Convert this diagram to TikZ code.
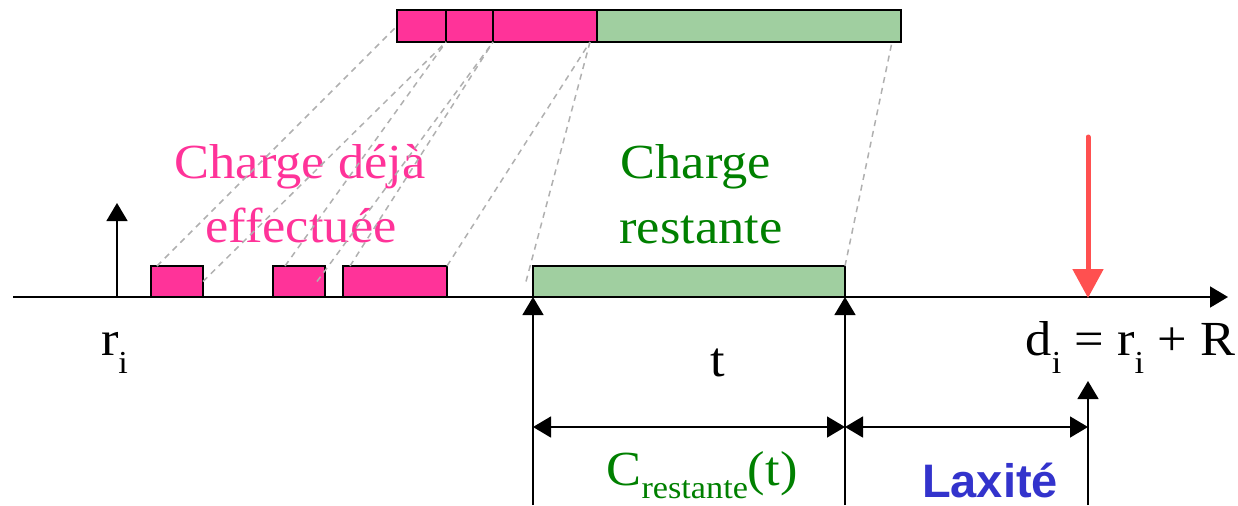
\documentclass[tikz,border=0pt]{standalone}
\usepackage{fontspec}
\setmainfont{Liberation Serif}[FakeStretch=1.07]
\newfontfamily\sansfam{Liberation Sans}
\usetikzlibrary{arrows.meta,calc}
\definecolor{pinkc}{HTML}{FF3399}
\definecolor{greenfill}{HTML}{A0CFA0}
\definecolor{greentext}{HTML}{008000}
\definecolor{bluetext}{HTML}{3333CC}
\definecolor{redarrow}{HTML}{FF5050}
\definecolor{dashgray}{HTML}{B0B0B0}
\newcommand\mysub[2][9pt]{\raisebox{-#1}{\fontsize{16}{16}\selectfont #2}}
\begin{document}
\begin{tikzpicture}[x=0.5pt,y=-0.5pt,
  seg/.style={draw=black, line width=1pt, inner sep=0pt, outer sep=0pt, anchor=north west},
  pinkseg/.style={seg, fill=pinkc},
  greenseg/.style={seg, fill=greenfill},
  txt/.style={inner sep=0pt, outer sep=0pt, anchor=base, font=\fontsize{24.5}{28}\selectfont},
  guide/.style={draw=dashgray, line width=0.75pt, dash pattern=on 3pt off 2.5pt},
  arr/.style={-{Triangle[width=10.5pt,length=9pt]}, line width=0.75pt},
  dbl/.style={{Triangle[width=10.5pt,length=9pt]}-{Triangle[width=10.5pt,length=9pt]}, line width=0.75pt},
  redarr/.style={-{Triangle[width=15pt,length=14.5pt]}, line width=2.5pt, draw=redarrow, line cap=round}
]
\useasboundingbox (0,0) rectangle (1238,505);

% top bar
\node[pinkseg, minimum width=24.5pt, minimum height=16pt] (s1) at (397,10) {};
\node[pinkseg, minimum width=23.5pt, minimum height=16pt] (s2) at (446,10) {};
\node[pinkseg, minimum width=52pt, minimum height=16pt] (s3) at (493,10) {};
\node[greenseg, minimum width=152pt, minimum height=16pt] (s4) at (597,10) {};

% bottom boxes
\node[pinkseg, minimum width=26pt, minimum height=15.5pt] (b1) at (151,266) {};
\node[pinkseg, minimum width=26pt, minimum height=15.5pt] (b2) at (273,266) {};
\node[pinkseg, minimum width=52pt, minimum height=15.5pt] (b3) at (343,266) {};
\node[greenseg, minimum width=156pt, minimum height=15.5pt] (g) at (533,266) {};

% axis
\coordinate (ax0) at (13,297);
\coordinate (ax1) at (1228,297);
\draw[arr, line width=0.9pt] (ax0) -- (ax1);

% texts
\node[txt, pinkc] (cd1) at (300,178) {Charge déjà};
\node[txt, pinkc] (cd2) at (301,242) {effectuée};
\node[txt, greentext] (cr1) at (696,178) {Charge};
\node[txt, greentext] (cr2) at (701,243) {restante};
\node[txt, anchor=base west] (ri) at (101,355) {r\mysub{i}};
\node[txt] (tt) at (718,376) {t};
\node[txt, anchor=base east] (di) at (1235,355) {d\mysub{i} = r\mysub{i} + R};
\node[txt, greentext] (cres) at (702,485) {C\mysub[6.5pt]{restante}(t)};
\node[txt, bluetext, font={\sansfam\bfseries\fontsize{23.5}{28}\selectfont}] (lax) at (990,497) {Laxité};

% dashed guides
\draw[guide] ($(b1.north west)+(6,0)$) -- (s1.west);
\draw[guide] (b1.east) -- (s1.south east);
\draw[guide] ($(b2.north west)+(12,0)$) -- (s1.south east);
\draw[guide] ($(b2.east)+(-8,0)$) -- (s2.south east);
\draw[guide] ($(b3.north west)+(7,0)$) -- (s2.south east);
\draw[guide] (b3.north east) -- ($(s3.south east)+(-7,0)$);
\draw[guide] ($(g.west)+(-7,0)$) -- ($(s3.south east)+(-7,0)$);
\draw[guide] (g.north east) -- ($(s4.south east)+(-9,0)$);

% r_i arrow
\coordinate (r0) at (117,297);
\coordinate (r1) at (117,203);
\draw[arr] (r0) -- (r1);

% vertical arrows
\coordinate (v1) at (533,505);
\coordinate (v2) at (845,505);
\coordinate (v3) at (1088,505);
\coordinate (v3t) at (1088,381);
\draw[arr] (v1) -- (g.south west);
\draw[arr] (v2) -- (g.south east);
\draw[arr] (v3) -- (v3t);

% horizontal double arrows
\coordinate (h1) at (533,427);
\coordinate (h2) at (845,427);
\coordinate (h3) at (1088,427);
\draw[dbl] (h1) -- (h2);
\draw[dbl] (h2) -- (h3);

% red deadline arrow
\coordinate (rd0) at (1088,137);
\coordinate (rd1) at (1088,298);
\draw[redarr] (rd0) -- (rd1);
\end{tikzpicture}
\end{document}
